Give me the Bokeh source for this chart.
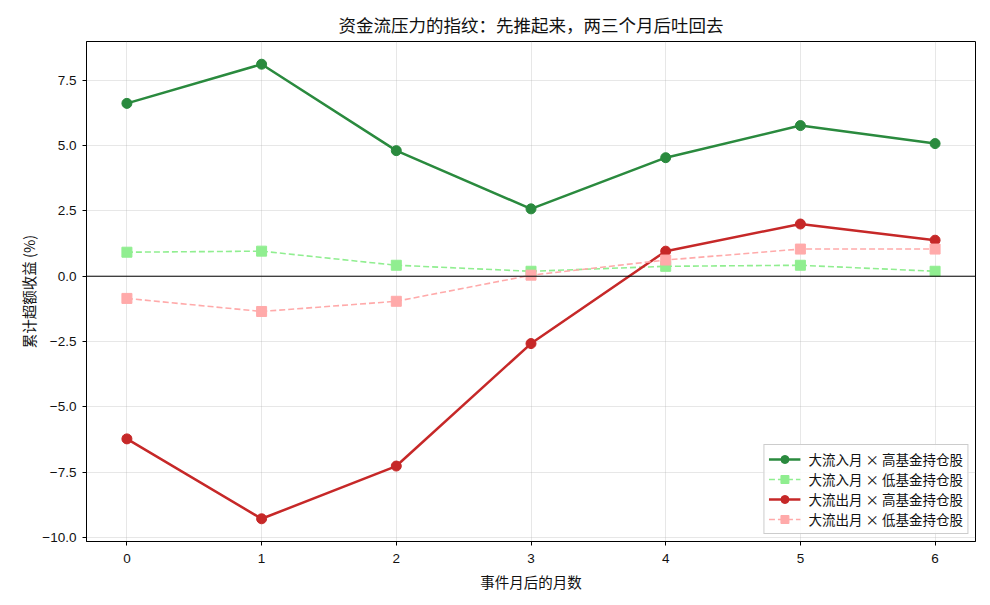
from bokeh.plotting import figure
from bokeh.embed import file_html
from bokeh.resources import INLINE
from bokeh.models import FixedTicker, Span, CustomJSTickFormatter, Range1d

months = [0, 1, 2, 3, 4, 5, 6]
inflow_high = [6.62, 8.12, 4.81, 2.58, 4.54, 5.77, 5.08]
inflow_low = [0.92, 0.96, 0.42, 0.19, 0.38, 0.42, 0.19]
outflow_high = [-6.23, -9.29, -7.27, -2.58, 0.96, 2.00, 1.38]
outflow_low = [-0.85, -1.35, -0.96, 0.04, 0.62, 1.04, 1.04]

y_ticks = [-10.0, -7.5, -5.0, -2.5, 0.0, 2.5, 5.0, 7.5]
x_ticks = [0, 1, 2, 3, 4, 5, 6]

title_text = "资金流压力的指纹：先推起来，两三个月后吐回去"
xlabel = "事件月后的月数"
ylabel = "累计超额收益 (%)"

CJK = "Noto Sans CJK SC"
LAT = "Liberation Sans"

p = figure(width=990, height=605, output_backend="svg", toolbar_location=None,
           x_range=Range1d(-0.3, 6.3), y_range=Range1d(-10.16, 8.99),
           min_border_left=86, min_border_right=15, min_border_top=41, min_border_bottom=64)

p.title.text = title_text
p.title.align = "center"
p.title.text_font = CJK
p.title.text_font_size = "17.5px"
p.title.text_font_style = "normal"
p.title.text_color = "#111111"
p.title.offset = 4

p.outline_line_color = "black"
p.outline_line_width = 1
p.background_fill_color = "white"
p.border_fill_color = "white"

for ax in (p.xaxis[0], p.yaxis[0]):
    ax.axis_label_text_font = CJK
    ax.axis_label_text_font_size = "14.5px"
    ax.axis_label_text_font_style = "normal"
    ax.axis_label_text_color = "#111111"
    ax.major_label_text_font = LAT
    ax.major_label_text_font_size = "13.5px"
    ax.major_label_text_color = "#111111"
    ax.axis_line_color = "black"
    ax.major_tick_line_color = "black"
    ax.major_tick_in = 0
    ax.major_tick_out = 4
    ax.minor_tick_line_color = None

p.xaxis.axis_label = xlabel
p.yaxis.axis_label = ylabel
p.xaxis.ticker = FixedTicker(ticks=x_ticks)
p.yaxis.ticker = FixedTicker(ticks=y_ticks)
p.yaxis.formatter = CustomJSTickFormatter(code="return tick.toFixed(1).replace('-', '\u2212');")
p.xaxis.major_label_standoff = 8
p.yaxis.major_label_standoff = 6
p.xaxis.axis_label_standoff = 5
p.yaxis.axis_label_standoff = 0

p.xgrid.ticker = FixedTicker(ticks=x_ticks)
p.ygrid.ticker = FixedTicker(ticks=y_ticks)
p.grid.grid_line_color = "#b0b0b0"
p.grid.grid_line_alpha = 0.3
p.grid.grid_line_width = 1

p.add_layout(Span(location=0, dimension="width", line_color="black", line_width=1))

series = [
    (inflow_high, "#2a8a3e", "solid", 2.5, "circle", "大流入月 × 高基金持仓股"),
    (inflow_low, "#90ee90", "6 3", 1.6, "square", "大流入月 × 低基金持仓股"),
    (outflow_high, "#c62828", "solid", 2.5, "circle", "大流出月 × 高基金持仓股"),
    (outflow_low, "#ffaaaa", "6 3", 1.6, "square", "大流出月 × 低基金持仓股"),
]
for ys, color, dash, lw, marker, label in series:
    p.line(months, ys, line_color=color, line_width=lw, line_dash=dash, legend_label=label)
    p.scatter(months, ys, marker=marker, size=10,
              fill_color=color, line_color=color, legend_label=label)

lg = p.legend[0]
lg.location = "bottom_right"
lg.label_text_font = CJK
lg.label_text_font_size = "13.5px"
lg.label_text_color = "#111111"
lg.border_line_color = "#cccccc"
lg.border_line_alpha = 1
lg.background_fill_alpha = 0.85
lg.spacing = 0
lg.padding = 4
lg.margin = 7
lg.glyph_height = 20
lg.label_height = 20
lg.glyph_width = 32
lg.label_standoff = 8

open("out.html", "w").write(file_html(p, INLINE))
